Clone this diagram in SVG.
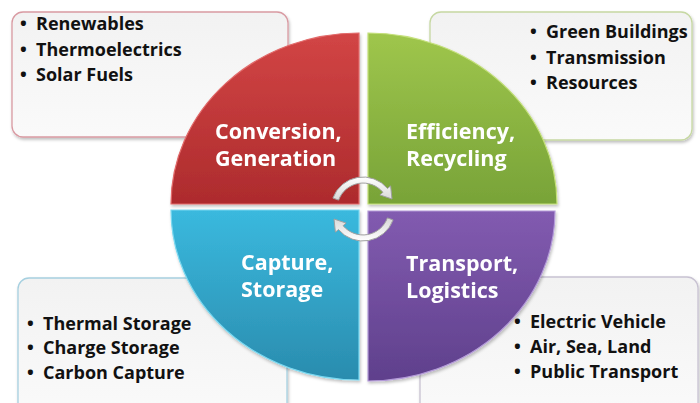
<svg xmlns="http://www.w3.org/2000/svg" width="700" height="403" viewBox="0 0 700 403">
<defs>
<linearGradient id="gBox" x1="0" y1="0" x2="0" y2="1"><stop offset="0" stop-color="#f2f2f2"/><stop offset="1" stop-color="#fafafa"/></linearGradient>
<linearGradient id="gRed" x1="0" y1="0" x2="0" y2="1"><stop offset="0" stop-color="#d24545"/><stop offset="1" stop-color="#ad2b2d"/></linearGradient>
<linearGradient id="gGreen" x1="0" y1="0" x2="0" y2="1"><stop offset="0" stop-color="#9fc64c"/><stop offset="1" stop-color="#78a338"/></linearGradient>
<linearGradient id="gBlue" x1="0" y1="0" x2="0" y2="1"><stop offset="0" stop-color="#3ab9de"/><stop offset="1" stop-color="#2a8cae"/></linearGradient>
<linearGradient id="gPurple" x1="0" y1="0" x2="0" y2="1"><stop offset="0" stop-color="#825bb0"/><stop offset="1" stop-color="#5f408c"/></linearGradient>
<linearGradient id="gArrow" x1="0" y1="0" x2="0" y2="1"><stop offset="0" stop-color="#ffffff"/><stop offset="1" stop-color="#d8d8d8"/></linearGradient>
<filter id="sh" x="-10%" y="-10%" width="120%" height="120%"><feDropShadow dx="1" dy="2" stdDeviation="1.5" flood-color="#000" flood-opacity="0.25"/></filter>
</defs>
<style>
.box{fill:url(#gBox);stroke-width:1.3;filter:url(#sh)}
.item{font-family:"Open Sans","Liberation Sans",sans-serif;font-weight:700;font-size:18px;fill:#111}
.lbl{font-family:"Open Sans","Liberation Sans",sans-serif;font-weight:700;font-size:21.5px;fill:#ffffff}
.arrow{fill:url(#gArrow);stroke:#a0a0a0;stroke-width:1}
</style>
<rect width="700" height="403" fill="#ffffff"/>
<g id="box-conversion">
<rect class="box" x="12" y="12" width="276" height="125" rx="11" stroke="#d99aa2"/>
<text class="item" y="30"><tspan x="20">•</tspan><tspan x="36">Renewables</tspan></text>
<text class="item" y="55.5"><tspan x="20">•</tspan><tspan x="36">Thermoelectrics</tspan></text>
<text class="item" y="81"><tspan x="20">•</tspan><tspan x="36">Solar Fuels</tspan></text>
</g>
<g id="box-efficiency">
<rect class="box" x="430" y="12" width="262" height="128" rx="11" stroke="#c6d8a2"/>
<text class="item" y="38"><tspan x="530">•</tspan><tspan x="546">Green Buildings</tspan></text>
<text class="item" y="63.5"><tspan x="530">•</tspan><tspan x="546">Transmission</tspan></text>
<text class="item" y="89"><tspan x="530">•</tspan><tspan x="546">Resources</tspan></text>
</g>
<g id="box-capture">
<rect class="box" x="18" y="278" width="269" height="140" rx="11" stroke="#a6d0e0"/>
<text class="item" y="330"><tspan x="27">•</tspan><tspan x="43">Thermal Storage</tspan></text>
<text class="item" y="354"><tspan x="27">•</tspan><tspan x="43">Charge Storage</tspan></text>
<text class="item" y="378.5"><tspan x="27">•</tspan><tspan x="43">Carbon Capture</tspan></text>
</g>
<g id="box-transport">
<rect class="box" x="420" y="277" width="278" height="140" rx="11" stroke="#c8c2d2"/>
<text class="item" y="328"><tspan x="514">•</tspan><tspan x="530">Electric Vehicle</tspan></text>
<text class="item" y="353"><tspan x="514">•</tspan><tspan x="530">Air, Sea, Land</tspan></text>
<text class="item" y="378"><tspan x="514">•</tspan><tspan x="530">Public Transport</tspan></text>
</g>
<g id="quad-conversion" filter="url(#sh)">
<path d="M359 204 L171 204 A188 171 0 0 1 359 33 Z" fill="url(#gRed)" stroke="#e26a6a" stroke-width="1.2"/>
<text class="lbl"><tspan x="215" y="138.5">Conversion,</tspan><tspan x="215" y="165.5">Generation</tspan></text>
</g>
<g id="quad-efficiency" filter="url(#sh)">
<path d="M368 204 L368 33 A189 171 0 0 1 557 204 Z" fill="url(#gGreen)" stroke="#c4e07a" stroke-width="1.2"/>
<text class="lbl"><tspan x="406" y="138.5">Efficiency,</tspan><tspan x="406" y="165.5">Recycling</tspan></text>
</g>
<g id="quad-capture" filter="url(#sh)">
<path d="M359 210 L359 380 A188 170 0 0 1 171 210 Z" fill="url(#gBlue)" stroke="#7ad8f0" stroke-width="1.2"/>
<text class="lbl"><tspan x="241" y="269.5">Capture,</tspan><tspan x="241" y="297">Storage</tspan></text>
</g>
<g id="quad-transport" filter="url(#sh)">
<path d="M368 211 L555 211 A187 170 0 0 1 368 381 Z" fill="url(#gPurple)" stroke="#b39ad8" stroke-width="1.2"/>
<text class="lbl"><tspan x="406" y="270.5">Transport,</tspan><tspan x="406" y="298">Logistics</tspan></text>
</g>
<g id="connectors">
<path class="arrow" d="M332.9 198.1 A32 32 0 0 1 387.5 188.4 L390.6 185.9 L392 199 L379.9 194.9 L382.9 192.3 A26 26 0 0 0 338.6 200.1 Z"/>
<path class="arrow" transform="rotate(180 363 209)" d="M332.9 198.1 A32 32 0 0 1 387.5 188.4 L390.6 185.9 L392 199 L379.9 194.9 L382.9 192.3 A26 26 0 0 0 338.6 200.1 Z"/>
</g>
</svg>
